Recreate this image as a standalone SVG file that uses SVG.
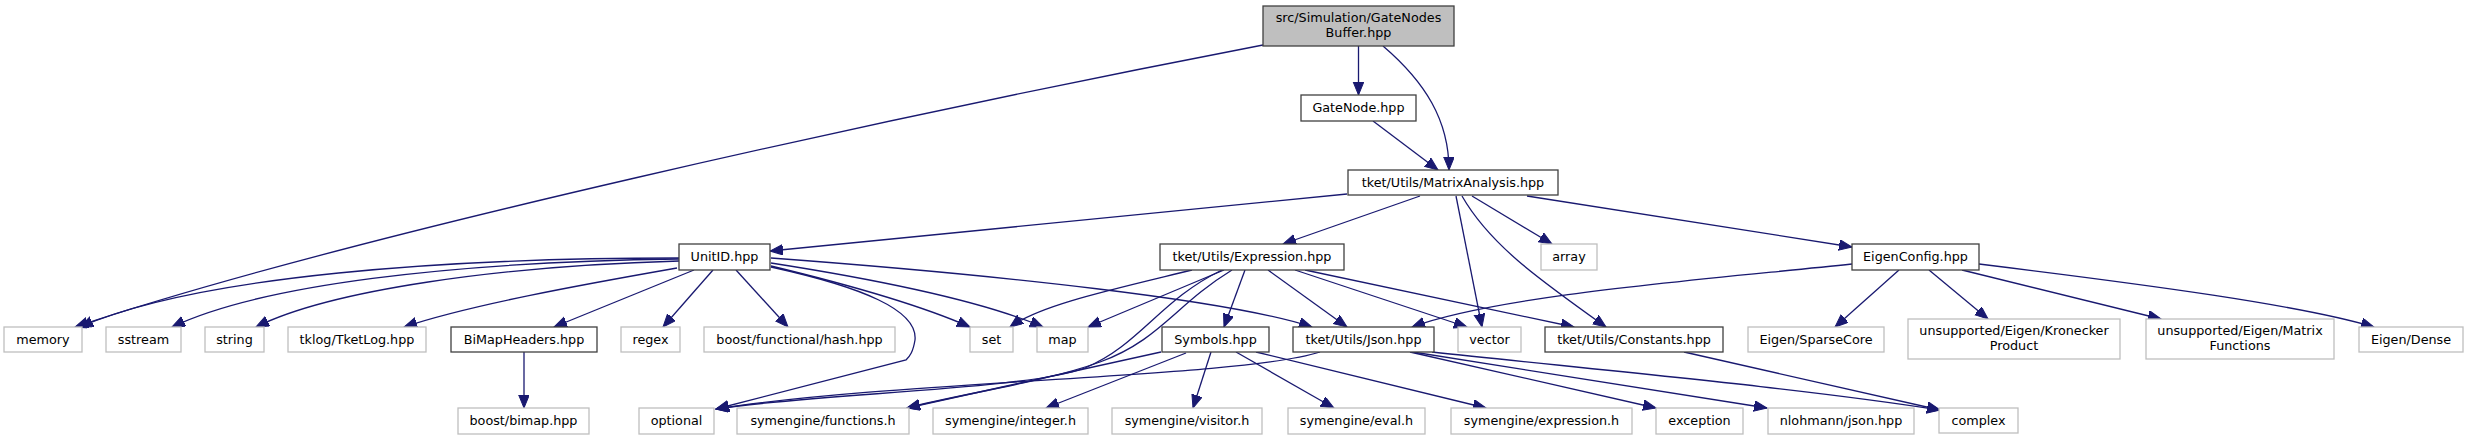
<svg xmlns="http://www.w3.org/2000/svg" width="2467" height="440" viewBox="0 0 2467 440">
<defs>
<marker id="ah" markerUnits="userSpaceOnUse" markerWidth="14" markerHeight="12" refX="13" refY="5.3" orient="auto">
<path d="M0,0 L13,5.3 L0,10.6 z" fill="#191970" stroke="#191970" stroke-width="1"/>
</marker>
</defs>
<style>
rect.n{fill:#ffffff;stroke:#404040;stroke-width:1.3}
rect.x{fill:#ffffff;stroke:#bfbfbf;stroke-width:1.3}
rect.r{fill:#bfbfbf;stroke:#404040;stroke-width:1.3}
text{font-family:"DejaVu Sans","Liberation Sans",sans-serif;font-size:12.75px;fill:#000000;text-anchor:middle}
#edges path{fill:none;stroke:#191970;stroke-width:1.3;marker-end:url(#ah)}
</style>
<rect width="2467" height="440" fill="#ffffff"/>
<g id="edges">
<path d="M1263,45 C900,115 350,235 75,327"/>
<path d="M1358.5,46 L1358.5,95"/>
<path d="M1383,46 C1425,82 1449,120 1449,170"/>
<path d="M1373,121 L1438,170"/>
<path d="M1347,194 L770,251"/>
<path d="M1420,196 L1283,244"/>
<path d="M1456,196 L1482,327"/>
<path d="M1462,196 C1490,245 1540,280 1606,327"/>
<path d="M1472,196 L1552,244"/>
<path d="M1527,196 C1650,215 1760,232 1852,247"/>
<path d="M679,258 C450,258 200,275 80,327"/>
<path d="M679,259 C450,262 260,285 172,327"/>
<path d="M679,261 C500,266 330,290 256,327"/>
<path d="M677,268 C580,285 470,305 404,327"/>
<path d="M694,270 L554,327"/>
<path d="M713,270 L663,327"/>
<path d="M736,270 L788,327"/>
<path d="M771,266 C850,285 920,305 970,327"/>
<path d="M771,263 C880,280 980,300 1043,327"/>
<path d="M771,258 C1000,275 1230,300 1312,327"/>
<path d="M771,267 C862,287 918,310 915,340 C913,352 910,356 906,360 L716,409"/>
<path d="M1192,270 C1110,290 1040,305 1010,327"/>
<path d="M1224,270 L1088,327"/>
<path d="M1222,270 C1160,300 1140,345 1085,368 C1025,390 820,393 716,409"/>
<path d="M1232,270 C1175,305 1160,340 1100,362 C1045,382 960,394 907,408"/>
<path d="M1245,270 L1224,327"/>
<path d="M1268,270 L1347,327"/>
<path d="M1295,270 L1467,327"/>
<path d="M1305,270 L1574,327"/>
<path d="M1161,352 L907,408"/>
<path d="M1186,353 L1046,408"/>
<path d="M1211,352 L1193,408"/>
<path d="M1236,352 L1334,408"/>
<path d="M1256,352 L1486,408"/>
<path d="M1320,352 C1240,378 900,380 716,409"/>
<path d="M1410,352 L1656,408"/>
<path d="M1413,352 L1767,408"/>
<path d="M1432,352 C1600,370 1800,388 1940,410"/>
<path d="M1684,352 L1940,410"/>
<path d="M1852,264 C1700,280 1500,295 1412,327"/>
<path d="M1899,270 L1835,327"/>
<path d="M1929,270 L1988,319"/>
<path d="M1962,270 L2161,319"/>
<path d="M1979,264 C2150,285 2300,305 2374,327"/>
<path d="M524,352 L524,408"/>
</g>
<g id="root"><rect class="r" x="1263" y="6" width="191" height="40"/><text x="1358.5" y="22">src/Simulation/GateNodes</text><text x="1358.5" y="37">Buffer.hpp</text></g>
<g id="gatenode"><rect class="n" x="1301" y="95" width="115" height="26"/><text x="1358.5" y="112">GateNode.hpp</text></g>
<g id="matrixanalysis"><rect class="n" x="1348" y="170" width="210" height="25"/><text x="1453" y="186.5">tket/Utils/MatrixAnalysis.hpp</text></g>
<g id="unitid"><rect class="n" x="679" y="244" width="91" height="26"/><text x="724.5" y="261">UnitID.hpp</text></g>
<g id="expression"><rect class="n" x="1160" y="244" width="184" height="26"/><text x="1252" y="261">tket/Utils/Expression.hpp</text></g>
<g id="array"><rect class="x" x="1541" y="244" width="56" height="26"/><text x="1569" y="261">array</text></g>
<g id="eigenconfig"><rect class="n" x="1852" y="244" width="127" height="26"/><text x="1915.5" y="261">EigenConfig.hpp</text></g>
<g id="memory"><rect class="x" x="4" y="327" width="78" height="25"/><text x="43" y="343.5">memory</text></g>
<g id="sstream"><rect class="x" x="106" y="327" width="75" height="25"/><text x="143.5" y="343.5">sstream</text></g>
<g id="string"><rect class="x" x="205" y="327" width="59" height="25"/><text x="234.5" y="343.5">string</text></g>
<g id="tketlog"><rect class="x" x="288" y="327" width="138" height="25"/><text x="357" y="343.5">tklog/TketLog.hpp</text></g>
<g id="bimapheaders"><rect class="n" x="451" y="327" width="146" height="25"/><text x="524" y="343.5">BiMapHeaders.hpp</text></g>
<g id="regex"><rect class="x" x="621" y="327" width="59" height="25"/><text x="650.5" y="343.5">regex</text></g>
<g id="hash"><rect class="x" x="704" y="327" width="191" height="25"/><text x="799.5" y="343.5">boost/functional/hash.hpp</text></g>
<g id="set"><rect class="x" x="970" y="327" width="43" height="25"/><text x="991.5" y="343.5">set</text></g>
<g id="map"><rect class="x" x="1037" y="327" width="51" height="25"/><text x="1062.5" y="343.5">map</text></g>
<g id="symbols"><rect class="n" x="1162" y="327" width="107" height="25"/><text x="1215.5" y="343.5">Symbols.hpp</text></g>
<g id="json"><rect class="n" x="1293" y="327" width="141" height="25"/><text x="1363.5" y="343.5">tket/Utils/Json.hpp</text></g>
<g id="vector"><rect class="x" x="1458" y="327" width="63" height="25"/><text x="1489.5" y="343.5">vector</text></g>
<g id="constants"><rect class="n" x="1545" y="327" width="178" height="25"/><text x="1634" y="343.5">tket/Utils/Constants.hpp</text></g>
<g id="sparsecore"><rect class="x" x="1748" y="327" width="136" height="25"/><text x="1816" y="343.5">Eigen/SparseCore</text></g>
<g id="kronecker"><rect class="x" x="1908" y="319" width="212" height="40"/><text x="2014" y="335">unsupported/Eigen/Kronecker</text><text x="2014" y="350">Product</text></g>
<g id="matrixfunctions"><rect class="x" x="2146" y="319" width="188" height="40"/><text x="2240" y="335">unsupported/Eigen/Matrix</text><text x="2240" y="350">Functions</text></g>
<g id="dense"><rect class="x" x="2359" y="327" width="104" height="25"/><text x="2411" y="343.5">Eigen/Dense</text></g>
<g id="bimap"><rect class="x" x="458" y="408" width="131" height="26"/><text x="523.5" y="425">boost/bimap.hpp</text></g>
<g id="optional"><rect class="x" x="639" y="408" width="75" height="26"/><text x="676.5" y="425">optional</text></g>
<g id="functions"><rect class="x" x="737" y="408" width="172" height="26"/><text x="823" y="425">symengine/functions.h</text></g>
<g id="integer"><rect class="x" x="933" y="408" width="155" height="26"/><text x="1010.5" y="425">symengine/integer.h</text></g>
<g id="visitor"><rect class="x" x="1112" y="408" width="150" height="26"/><text x="1187" y="425">symengine/visitor.h</text></g>
<g id="eval"><rect class="x" x="1288" y="408" width="137" height="26"/><text x="1356.5" y="425">symengine/eval.h</text></g>
<g id="expressionh"><rect class="x" x="1451" y="408" width="181" height="26"/><text x="1541.5" y="425">symengine/expression.h</text></g>
<g id="exception"><rect class="x" x="1656" y="408" width="87" height="26"/><text x="1699.5" y="425">exception</text></g>
<g id="nlohmann"><rect class="x" x="1768" y="408" width="146" height="26"/><text x="1841" y="425">nlohmann/json.hpp</text></g>
<g id="complex"><rect class="x" x="1939" y="408" width="79" height="25"/><text x="1978.5" y="425">complex</text></g>
</svg>
